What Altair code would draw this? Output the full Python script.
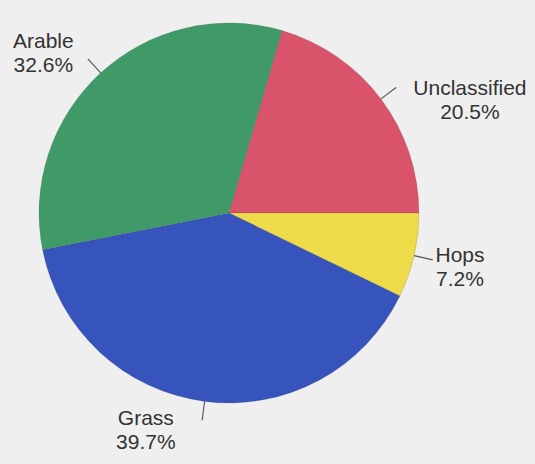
import altair as alt
import pandas as pd
import math

categories = ["Unclassified", "Hops", "Grass", "Arable"]
values = [20.5, 7.2, 39.7, 32.6]
colors = ["#d9546a", "#eedb4a", "#3654bc", "#3f9a68"]

df = pd.DataFrame({"category": categories, "value": values, "order": list(range(len(categories)))})

offset = math.radians(16.2)
theta_scale = alt.Scale(domain=[0, 100], range=[offset, offset + 2 * math.pi])
color_scale = alt.Scale(domain=categories, range=colors)

CX, CY, R = 229, 213, 190

base = alt.Chart(df).transform_window(
    cum="sum(value)", sort=[alt.SortField("order")]
).transform_calculate(
    start="datum.cum - datum.value",
    mid="datum.cum - datum.value / 2",
    lo="datum.cum - datum.value / 2 - 0.045",
    hi="datum.cum - datum.value / 2 + 0.045",
    label="datum.category + '\\n' + format(datum.value, '.1f') + '%'",
)

pie = base.mark_arc(outerRadius=R, stroke="#3a3a3a", strokeWidth=0.3, strokeOpacity=0.5).encode(
    theta=alt.Theta("start:Q", scale=theta_scale, stack=None),
    theta2="cum:Q",
    color=alt.Color("category:N", scale=color_scale, legend=None),
    x=alt.value(CX),
    y=alt.value(CY),
)

leaders = base.mark_arc(innerRadius=R, outerRadius=R + 19, color="#555555").encode(
    theta=alt.Theta("lo:Q", scale=theta_scale, stack=None),
    theta2="hi:Q",
    x=alt.value(CX),
    y=alt.value(CY),
)

offsets = {
    "Arable": (-27, 2),
    "Unclassified": (53, 17),
    "Hops": (2, -10),
    "Grass": (-53, -27),
}

texts = []
for cat in categories:
    dx, dy = offsets[cat]
    t = base.transform_filter(alt.datum.category == cat).mark_text(
        radius=235, dx=dx, dy=dy, align="center", baseline="middle",
        lineBreak="\n", fontSize=21, lineHeight=24, font="Liberation Sans", color="#333333",
    ).encode(
        theta=alt.Theta("mid:Q", scale=theta_scale, stack=None),
        text="label:N",
        x=alt.value(CX),
        y=alt.value(CY),
    )
    texts.append(t)

chart = alt.layer(pie, leaders, *texts).properties(
    width=535, height=464, background="#efefef", padding=0,
    autosize=alt.AutoSizeParams(type="none"),
).configure_view(stroke=None)

chart.save("out.html", embed_options={"renderer": "svg", "actions": False})
